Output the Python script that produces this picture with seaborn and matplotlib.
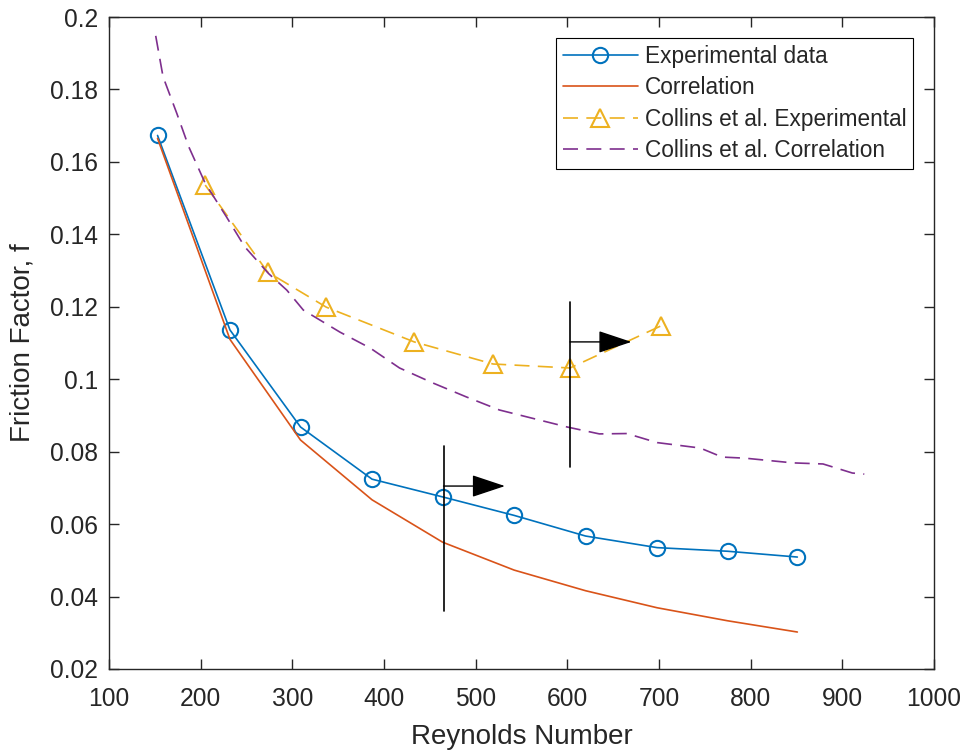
import numpy as np
import pandas as pd
import seaborn as sns
import matplotlib.pyplot as plt
from matplotlib.ticker import FuncFormatter

# Experimental data (this work)
exp_re = [153, 232, 309, 387, 464, 542, 620, 698, 775, 851]
exp_f = [0.1673, 0.1136, 0.0868, 0.0724, 0.0675, 0.0624, 0.0567, 0.0535, 0.0525, 0.0509]

# Correlation
corr_re = [153, 232, 309, 387, 464, 542, 620, 698, 775, 851]
corr_f = [0.1665, 0.1110, 0.0832, 0.0667, 0.0550, 0.0473, 0.0416, 0.0369, 0.0333, 0.0302]

# Collins et al. experimental
col_exp_re = [205, 273, 337, 433, 519, 603, 702]
col_exp_f = [0.1536, 0.1296, 0.1199, 0.1103, 0.1042, 0.1031, 0.1147]

# Collins et al. correlation
col_corr_re = [151, 159, 174, 187, 205, 228, 248, 274, 294, 312, 352, 385, 417,
               453, 490, 526, 600, 635, 665, 698, 745, 769, 794, 846, 879, 911, 924]
col_corr_f = [0.1948, 0.1835, 0.1734, 0.1642, 0.1541, 0.1449, 0.1366, 0.1292, 0.1246,
              0.1191, 0.1130, 0.1086, 0.1031, 0.0990, 0.0951, 0.0915, 0.0868, 0.0849,
              0.0850, 0.0825, 0.0810, 0.0785, 0.0782, 0.0769, 0.0766, 0.0741, 0.0738]

# annotation markers: vertical bar (x, y_low, y_high) and arrow (x_start, x_end, y)
bars = [(465, 0.0360, 0.0816), (603, 0.0758, 0.1213)]
arrows = [(465, 532, 0.0705), (603, 670, 0.1103)]

sns.set_style("ticks")
plt.rcParams['font.family'] = ['Liberation Sans', 'DejaVu Sans']
plt.rcParams['axes.edgecolor'] = '#262626'
plt.rcParams['xtick.color'] = '#262626'
plt.rcParams['ytick.color'] = '#262626'

fig = plt.figure(figsize=(9.66, 7.53), dpi=100)
ax = fig.add_axes([0.1128, 0.1116, 0.8540, 0.8658])

blue = '#0072BD'
orange = '#D95319'
yellow = '#EDB120'
purple = '#7E2F8E'

sns.lineplot(x=exp_re, y=exp_f, ax=ax, color=blue, lw=1.2, marker='o', markersize=11,
             markerfacecolor='none', markeredgecolor=blue, markeredgewidth=1.5,
             label='Experimental data')
sns.lineplot(x=corr_re, y=corr_f, ax=ax, color=orange, lw=1.2, label='Correlation')
sns.lineplot(x=col_exp_re, y=col_exp_f, ax=ax, color=yellow, lw=1.2, marker='^',
             markersize=13, markerfacecolor='none', markeredgecolor=yellow,
             markeredgewidth=1.5, linestyle=(0, (9, 5)),
             label='Collins et al. Experimental')
sns.lineplot(x=col_corr_re, y=col_corr_f, ax=ax, color=purple, lw=1.2,
             linestyle=(0, (9, 5)), label='Collins et al. Correlation')

for x, lo, hi in bars:
    ax.plot([x, x], [lo, hi], color='black', lw=1.2)
for x0, x1, y in arrows:
    ax.annotate('', xy=(x1, y), xytext=(x0, y),
                arrowprops=dict(arrowstyle='-|>,head_length=1.5,head_width=0.5',
                                color='black', lw=1.0, mutation_scale=14,
                                shrinkA=0, shrinkB=0))

ax.set_xlim(100, 1000)
ax.set_ylim(0.02, 0.2)
ax.set_xticks(np.arange(100, 1001, 100))
ax.set_yticks(np.arange(0.02, 0.2001, 0.02))
ax.yaxis.set_major_formatter(FuncFormatter(lambda v, p: f"{v:g}"))
ax.tick_params(direction='in', top=True, right=True, labelsize=17.7, length=7, width=1)
ax.tick_params(axis='x', pad=13)
ax.tick_params(axis='y', pad=8)
for s in ax.spines.values():
    s.set_visible(True)
    s.set_linewidth(1)

ax.set_xlabel('Reynolds Number', fontsize=20, color='#262626', labelpad=9)
ax.set_ylabel('Friction Factor, f', fontsize=20, color='#262626', labelpad=10)

leg = ax.legend(loc='upper right', bbox_to_anchor=(913 / 966, 1 - 38 / 753),
                bbox_transform=fig.transFigure, fontsize=16.3, frameon=True,
                fancybox=False, framealpha=1, edgecolor='black', handlelength=3.3,
                borderpad=0.3, labelspacing=0.37, handletextpad=0.3, borderaxespad=0)
leg.get_frame().set_linewidth(0.8)

fig.savefig('out.png', dpi=100)
